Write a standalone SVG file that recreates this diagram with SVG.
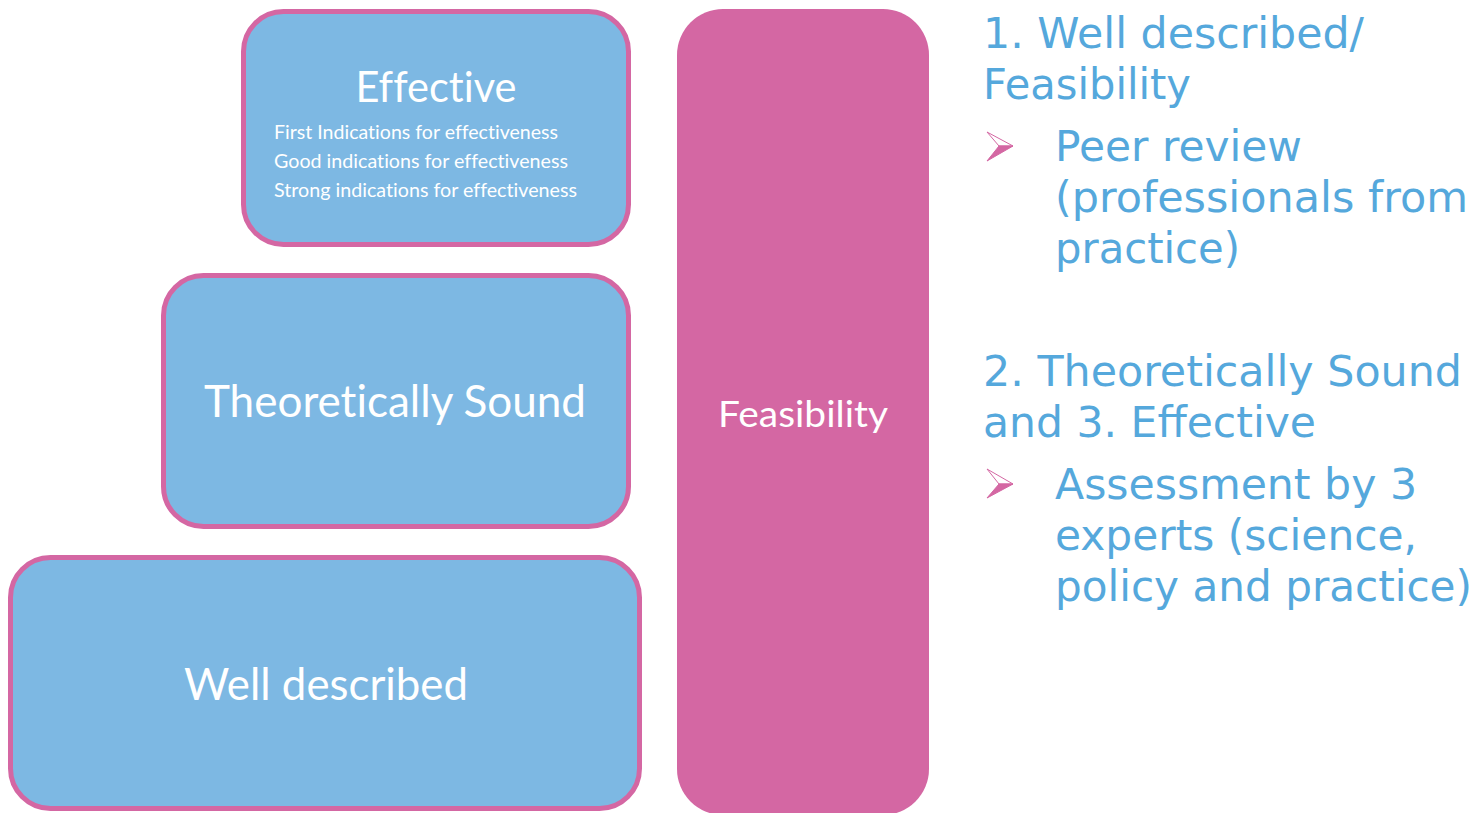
<svg xmlns="http://www.w3.org/2000/svg" width="1479" height="813" viewBox="0 0 1479 813">
<style>
.box{fill:#7db8e3;stroke:#d467a3;stroke-width:5}
.bt{font-family:Lato,"Open Sans",sans-serif;fill:#ffffff;font-variant-ligatures:none;font-feature-settings:"liga" 0}
.rt{font-family:"DejaVu Sans",Verdana,sans-serif;fill:#55a8dc;font-size:42px}
.bul{fill:#d467a3;stroke:#d467a3;stroke-width:1}
</style>
<rect width="1479" height="813" fill="#ffffff"/>
<g id="effective">
<rect class="box" x="243.5" y="11.5" width="385" height="233" rx="40"/>
<text class="bt" x="436" y="102" font-size="42" text-anchor="middle" textLength="161" lengthAdjust="spacingAndGlyphs">Effective</text>
<text class="bt" x="274" y="139" font-size="19" textLength="284" lengthAdjust="spacingAndGlyphs">First Indications for effectiveness</text>
<text class="bt" x="274" y="168" font-size="19" textLength="294" lengthAdjust="spacingAndGlyphs">Good indications for effectiveness</text>
<text class="bt" x="274" y="197" font-size="19" textLength="303" lengthAdjust="spacingAndGlyphs">Strong indications for effectiveness</text>
</g>
<g id="theoretically-sound">
<rect class="box" x="163.5" y="275.5" width="465" height="251" rx="40"/>
<text class="bt" x="395" y="417" font-size="44" text-anchor="middle" textLength="382" lengthAdjust="spacingAndGlyphs">Theoretically Sound</text>
</g>
<g id="well-described">
<rect class="box" x="10.5" y="557.5" width="629" height="251" rx="40"/>
<text class="bt" x="326" y="700" font-size="44" text-anchor="middle" textLength="284" lengthAdjust="spacingAndGlyphs">Well described</text>
</g>
<g id="feasibility">
<rect x="677" y="9" width="252" height="806" rx="46" fill="#d467a3"/>
<text class="bt" x="803" y="427" font-size="36" text-anchor="middle" textLength="170" lengthAdjust="spacingAndGlyphs">Feasibility</text>
</g>
<g id="connectors"></g>
<g id="notes">
<text class="rt" x="983" y="48" textLength="381" lengthAdjust="spacingAndGlyphs">1. Well described/</text>
<text class="rt" x="983" y="99" textLength="208" lengthAdjust="spacingAndGlyphs">Feasibility</text>
<polygon points="987,132 1013,146 999,146" fill="none" stroke="#d467a3" stroke-width="1"/>
<polygon class="bul" points="999,146 1013,146 987,161"/>
<text class="rt" x="1055" y="161" textLength="247" lengthAdjust="spacingAndGlyphs">Peer review</text>
<text class="rt" x="1055" y="212" textLength="413" lengthAdjust="spacingAndGlyphs">(professionals from</text>
<text class="rt" x="1055" y="263" textLength="185" lengthAdjust="spacingAndGlyphs">practice)</text>
<text class="rt" x="983" y="386" textLength="479" lengthAdjust="spacingAndGlyphs">2. Theoretically Sound</text>
<text class="rt" x="983" y="437" textLength="333" lengthAdjust="spacingAndGlyphs">and 3. Effective</text>
<polygon points="987,469 1013,484 999,484" fill="none" stroke="#d467a3" stroke-width="1"/>
<polygon class="bul" points="999,484 1013,484 987,498"/>
<text class="rt" x="1055" y="499" textLength="362" lengthAdjust="spacingAndGlyphs">Assessment by 3</text>
<text class="rt" x="1055" y="550" textLength="362" lengthAdjust="spacingAndGlyphs">experts (science,</text>
<text class="rt" x="1055" y="601" textLength="417" lengthAdjust="spacingAndGlyphs">policy and practice)</text>
</g>
</svg>
